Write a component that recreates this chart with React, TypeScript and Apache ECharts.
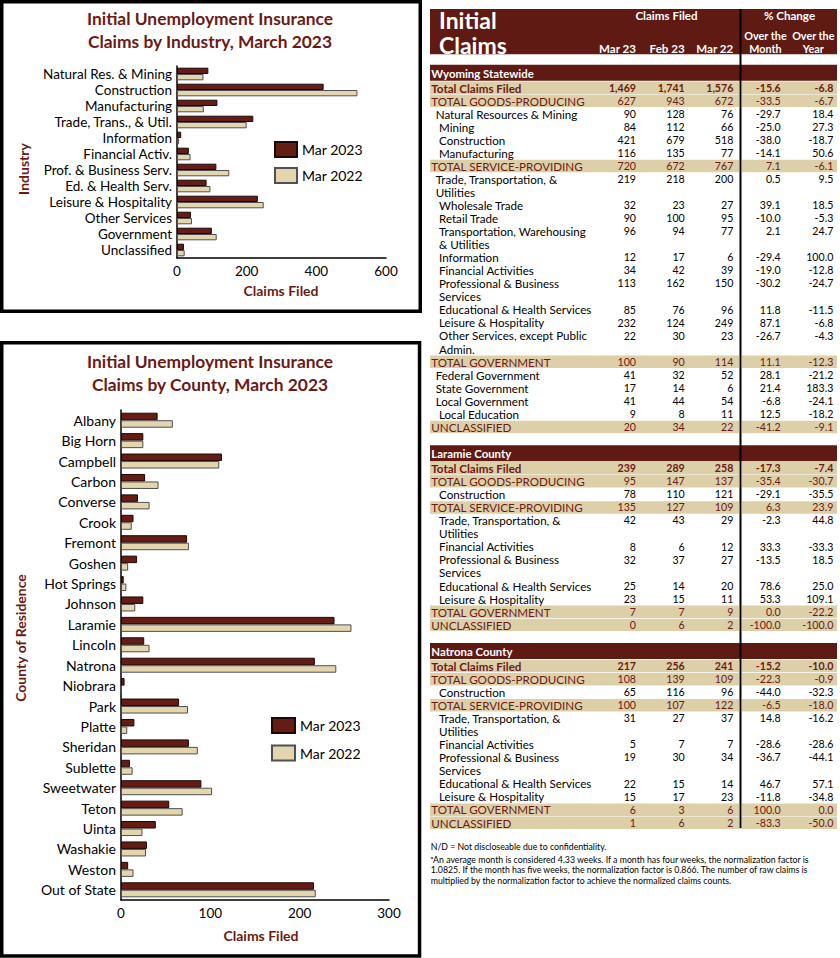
import React, { useEffect, useRef } from "react";
import * as echarts from "echarts";

// ---------- Chart data ----------
const industries = [
  "Natural Res. & Mining", "Construction", "Manufacturing", "Trade, Trans., & Util.",
  "Information", "Financial Activ.", "Prof. & Business Serv.", "Ed. & Health Serv.",
  "Leisure & Hospitality", "Other Services", "Government", "Unclassified",
];
const industryMar2023 = [90, 421, 116, 219, 12, 34, 113, 85, 232, 40, 100, 20];
const industryMar2022 = [76, 518, 77, 200, 6, 39, 150, 96, 249, 43, 114, 22];
const industryTicks = { min: 0, max: 600, interval: 200 };

const counties = [
  "Albany", "Big Horn", "Campbell", "Carbon", "Converse", "Crook", "Fremont", "Goshen",
  "Hot Springs", "Johnson", "Laramie", "Lincoln", "Natrona", "Niobrara", "Park", "Platte",
  "Sheridan", "Sublette", "Sweetwater", "Teton", "Uinta", "Washakie", "Weston", "Out of State",
];
const countyMar2023 = [41, 25, 113, 27, 19, 14, 74, 18, 3, 25, 239, 26, 217, 4, 65, 15, 76, 10, 90, 54, 39, 29, 8, 216];
const countyMar2022 = [58, 25, 110, 42, 32, 12, 76, 8, 6, 16, 258, 32, 241, 0, 75, 7, 86, 13, 102, 69, 24, 28, 14, 218];
const countyTicks = { min: 0, max: 300, interval: 100 };

const seriesNames = ["Mar 2023", "Mar 2022"];

// ---------- Table data ----------
const tableColumns = ["Mar 23", "Feb 23", "Mar 22"];

const wyTitle = "Wyoming Statewide";
const wyLabels = [
  "Total Claims Filed", "TOTAL GOODS-PRODUCING", "Natural Resources & Mining", "Mining",
  "Construction", "Manufacturing", "TOTAL SERVICE-PROVIDING", "Trade, Transportation, &\nUtilities",
  "Wholesale Trade", "Retail Trade", "Transportation, Warehousing\n& Utilities", "Information",
  "Financial Activities", "Professional & Business\nServices", "Educational & Health Services",
  "Leisure & Hospitality", "Other Services, except Public\nAdmin.", "TOTAL GOVERNMENT",
  "Federal Government", "State Government", "Local Government", "Local Education", "UNCLASSIFIED",
];
const wyLevels = ["T", "G", 1, 2, 2, 2, "G", 1, 2, 2, 2, 2, 2, 2, 2, 2, 2, "G", 1, 1, 1, 2, "G"];
const wyMar23 = [1469, 627, 90, 84, 421, 116, 720, 219, 32, 90, 96, 12, 34, 113, 85, 232, 22, 100, 41, 17, 41, 9, 20];
const wyFeb23 = [1741, 943, 128, 112, 679, 135, 672, 218, 23, 100, 94, 17, 42, 162, 76, 124, 30, 90, 32, 14, 44, 8, 34];
const wyMar22 = [1576, 672, 76, 66, 518, 77, 767, 200, 27, 95, 77, 6, 39, 150, 96, 249, 23, 114, 52, 6, 54, 11, 22];
const wyOTM = [-15.6, -33.5, -29.7, -25.0, -38.0, -14.1, 7.1, 0.5, 39.1, -10.0, 2.1, -29.4, -19.0, -30.2, 11.8, 87.1, -26.7, 11.1, 28.1, 21.4, -6.8, 12.5, -41.2];
const wyOTY = [-6.8, -6.7, 18.4, 27.3, -18.7, 50.6, -6.1, 9.5, 18.5, -5.3, 24.7, 100.0, -12.8, -24.7, -11.5, -6.8, -4.3, -12.3, -21.2, 183.3, -24.1, -18.2, -9.1];

const countyLabels = [
  "Total Claims Filed", "TOTAL GOODS-PRODUCING", "Construction", "TOTAL SERVICE-PROVIDING",
  "Trade, Transportation, &\nUtilities", "Financial Activities", "Professional & Business\nServices",
  "Educational & Health Services", "Leisure & Hospitality", "TOTAL GOVERNMENT", "UNCLASSIFIED",
];
const countyLevels = ["T", "G", 2, "G", 2, 2, 2, 2, 2, "G", "G"];

const larTitle = "Laramie County";
const larMar23 = [239, 95, 78, 135, 42, 8, 32, 25, 23, 7, 0];
const larFeb23 = [289, 147, 110, 127, 43, 6, 37, 14, 15, 7, 6];
const larMar22 = [258, 137, 121, 109, 29, 12, 27, 20, 11, 9, 2];
const larOTM = [-17.3, -35.4, -29.1, 6.3, -2.3, 33.3, -13.5, 78.6, 53.3, 0.0, -100.0];
const larOTY = [-7.4, -30.7, -35.5, 23.9, 44.8, -33.3, 18.5, 25.0, 109.1, -22.2, -100.0];

const natTitle = "Natrona County";
const natMar23 = [217, 108, 65, 100, 31, 5, 19, 22, 15, 6, 1];
const natFeb23 = [256, 139, 116, 107, 27, 7, 30, 15, 17, 3, 6];
const natMar22 = [241, 109, 96, 122, 37, 7, 34, 14, 23, 6, 2];
const natOTM = [-15.2, -22.3, -44.0, -6.5, 14.8, -28.6, -36.7, 46.7, -11.8, 100.0, -83.3];
const natOTY = [-10.0, -0.9, -32.3, -18.0, -16.2, -28.6, -44.1, 57.1, -34.8, 0.0, -50.0];

const footnotes = [
  "N/D = Not discloseable due to confidentiality.",
  "\u1d43An average month is considered 4.33 weeks. If a month has four weeks, the normalization factor is",
  "1.0825. If the month has five weeks, the normalization factor is 0.866. The number of raw claims is",
  "multiplied by the normalization factor to achieve the normalized claims counts.",
];

// ---------- Styles ----------
const FONT = "Lato";
const MAROON = "#5f1a13";
const TITLE_RED = "#6b1a15";
const DARK_BAR = "#641c14";
const BEIGE_BAR = "#e3d5ae";
const BEIGE_ROW = "#ddcfa8";

const fmtInt = (v: number) => v.toLocaleString("en-US");
const fmtPct = (v: number) => v.toFixed(1);

function txt(x: number, y: number, text: string, o: any = {}) {
  return {
    type: "text",
    x,
    y,
    rotation: o.rotation || 0,
    silent: true,
    z: 10,
    style: {
      text,
      fill: o.fill || "#000",
      fontFamily: FONT,
      fontSize: o.size || 11,
      fontWeight: o.bold ? "bold" : "normal",
      textAlign: o.align || "left",
      textVerticalAlign: o.va || "middle",
      lineHeight: o.lh,
    },
  };
}

const T_LEFT = 430;
const T_RIGHT = 837;
const T_DIV = 740.5;
const LH = 13.05;
const LABEL_SIZE = 11.6;
const NUM_SIZE = 10.6;
const COLS = [636, 684.7, 733.3, 780.7, 833.3];
const INDENT: Record<string, number> = { T: 431.3, G: 431.3, "1": 435.7, "2": 439 };

function buildSection(
  els: any[], top: number, title: string, labels: string[], levels: any[],
  a: number[], b: number[], c: number[], d: number[], e: number[]
) {
  els.push({ type: "rect", shape: { x: T_LEFT, y: top, width: T_RIGHT - T_LEFT, height: 16 }, style: { fill: MAROON }, silent: true, z: 2 });
  els.push(txt(431.3, top + 8.3, title, { fill: "#fff", bold: true, size: 11.4 }));
  let y = top + 16.5;
  labels.forEach((lab, i) => {
    const lv = String(levels[i]);
    const lines = lab.split("\n").length;
    const isTot = lv === "T" || lv === "G";
    if (isTot) {
      els.push({ type: "rect", shape: { x: T_LEFT, y: y + 0.3, width: T_DIV - 1.5 - T_LEFT, height: LH - 0.6 }, style: { fill: BEIGE_ROW }, silent: true, z: 2 });
      els.push({ type: "rect", shape: { x: T_DIV + 1.5, y: y + 0.3, width: T_RIGHT - T_DIV - 1.5, height: LH - 0.6 }, style: { fill: BEIGE_ROW }, silent: true, z: 2 });
    }
    const fill = isTot ? TITLE_RED : "#000";
    const bold = lv === "T";
    els.push(txt(INDENT[lv], y + 0.3, lab, { fill, bold, size: LABEL_SIZE, va: "top", lh: LH }));
    const cy = y + LH / 2;
    const vals = [fmtInt(a[i]), fmtInt(b[i]), fmtInt(c[i]), fmtPct(d[i]), fmtPct(e[i])];
    vals.forEach((v, k) => els.push(txt(COLS[k], cy, v, { fill, bold, size: NUM_SIZE, align: "right" })));
    y += lines * LH;
  });
  return y;
}

function buildGraphics() {
  const els: any[] = [];
  // panel borders
  els.push({ type: "rect", shape: { x: 1.75, y: 1.75, width: 418.5, height: 309.5 }, style: { fill: "none", stroke: "#000", lineWidth: 3.5 }, silent: true, z: 20 });
  els.push({ type: "rect", shape: { x: 1.75, y: 342.75, width: 417.8, height: 613.3 }, style: { fill: "none", stroke: "#000", lineWidth: 3.5 }, silent: true, z: 20 });
  // panel titles
  const TS = 17.4;
  els.push(txt(210, 18.3, "Initial Unemployment Insurance", { fill: TITLE_RED, bold: true, size: TS, align: "center" }));
  els.push(txt(210, 41.7, "Claims by Industry, March 2023", { fill: TITLE_RED, bold: true, size: TS, align: "center" }));
  els.push(txt(210, 361.7, "Initial Unemployment Insurance", { fill: TITLE_RED, bold: true, size: TS, align: "center" }));
  els.push(txt(210, 384.3, "Claims by County, March 2023", { fill: TITLE_RED, bold: true, size: TS, align: "center" }));
  // axis names
  els.push(txt(23, 169, "Industry", { fill: TITLE_RED, bold: true, size: 14, align: "center", rotation: Math.PI / 2 }));
  els.push(txt(281, 290, "Claims Filed", { fill: TITLE_RED, bold: true, size: 14, align: "center" }));
  els.push(txt(20, 638, "County of Residence", { fill: TITLE_RED, bold: true, size: 14, align: "center", rotation: Math.PI / 2 }));
  els.push(txt(261, 935, "Claims Filed", { fill: TITLE_RED, bold: true, size: 14, align: "center" }));

  // table header
  els.push({ type: "rect", shape: { x: T_LEFT, y: 9, width: T_RIGHT - T_LEFT, height: 45.3 }, style: { fill: MAROON }, silent: true, z: 2 });
  els.push(txt(439, 19.5, "Initial", { fill: "#fff", bold: true, size: 23 }));
  els.push(txt(439, 45, "Claims", { fill: "#fff", bold: true, size: 23 }));
  const HS = 11.6;
  const HS2 = 10.8;
  els.push(txt(666.5, 15, "Claims Filed", { fill: "#fff", bold: true, size: HS, align: "center" }));
  els.push(txt(789.5, 15, "% Change", { fill: "#fff", bold: true, size: HS, align: "center" }));
  els.push(txt(765.5, 35.3, "Over the", { fill: "#fff", bold: true, size: HS2, align: "center" }));
  els.push(txt(813.3, 35.3, "Over the", { fill: "#fff", bold: true, size: HS2, align: "center" }));
  els.push(txt(765.5, 48.6, "Month", { fill: "#fff", bold: true, size: HS2, align: "center" }));
  els.push(txt(813.3, 48.6, "Year", { fill: "#fff", bold: true, size: HS2, align: "center" }));
  tableColumns.forEach((c, k) => els.push(txt(COLS[k], 48.6, c, { fill: "#fff", bold: true, size: HS, align: "right" })));

  let y = buildSection(els, 64.7, wyTitle, wyLabels, wyLevels, wyMar23, wyFeb23, wyMar22, wyOTM, wyOTY);
  y = buildSection(els, y + 11.7, larTitle, countyLabels, countyLevels, larMar23, larFeb23, larMar22, larOTM, larOTY);
  y = buildSection(els, y + 11.7, natTitle, countyLabels, countyLevels, natMar23, natFeb23, natMar22, natOTM, natOTY);

  // divider line
  els.push({ type: "line", shape: { x1: T_DIV, y1: 9, x2: T_DIV, y2: y - 1 }, style: { stroke: "#000", lineWidth: 2 }, silent: true, z: 15 });

  // footnotes
  const fy = [846.7, 859.3, 869.6, 880];
  footnotes.forEach((f, i) => els.push(txt(430.7, fy[i], f, { size: 8.75 })));
  return els;
}

function barSeries(name: string, data: number[], idx: number, dark: boolean, width: number) {
  return {
    type: "bar",
    name,
    data,
    xAxisIndex: idx,
    yAxisIndex: idx,
    barWidth: width,
    barGap: "0%",
    itemStyle: {
      color: dark ? DARK_BAR : BEIGE_BAR,
      borderColor: dark ? "#1c0806" : "#505050",
      borderWidth: 1,
    },
  };
}

const catAxis = (data: string[], idx: number, size: number) => ({
  type: "category",
  gridIndex: idx,
  data,
  inverse: true,
  axisLine: { show: true, lineStyle: { color: "#000", width: 1.5 } },
  axisTick: { show: false },
  axisLabel: { color: "#000", fontSize: size, fontFamily: FONT, margin: 5, interval: 0 },
});

const valAxis = (idx: number, t: { min: number; max: number; interval: number }) => ({
  type: "value",
  gridIndex: idx,
  min: t.min,
  max: t.max,
  interval: t.interval,
  splitLine: { show: false },
  axisLine: { show: true, lineStyle: { color: "#000", width: 1.5 } },
  axisTick: { show: false },
  axisLabel: { color: "#000", fontSize: 13.5, fontFamily: FONT, margin: 6 },
});

const legendCfg = (left: number, top: number, gap: number, w: number) => ({
  left,
  top,
  orient: "vertical",
  icon: "rect",
  itemWidth: w,
  itemHeight: 15,
  itemGap: gap,
  selectedMode: false,
  data: seriesNames,
  textStyle: { color: "#000", fontSize: 14, fontFamily: FONT, lineHeight: 15 },
});

export default function App() {
  const ref = useRef<HTMLDivElement>(null);
  useEffect(() => {
    const chart = echarts.init(ref.current!, null, { renderer: "svg" });
    chart.setOption({
      animation: false,
      backgroundColor: "#fff",
      textStyle: { fontFamily: FONT },
      grid: [
        { left: 177, top: 66, width: 209, height: 192 },
        { left: 121, top: 410, width: 268, height: 490 },
      ],
      xAxis: [valAxis(0, industryTicks), valAxis(1, countyTicks)],
      yAxis: [catAxis(industries, 0, 13.5), catAxis(counties, 1, 14)],
      legend: [legendCfg(269, 136, 9, 22), legendCfg(266, 712, 10.5, 23)],
      series: [
        barSeries(seriesNames[0], industryMar2023, 0, true, 6.3),
        barSeries(seriesNames[1], industryMar2022, 0, false, 6.3),
        barSeries(seriesNames[0], countyMar2023, 1, true, 7.5),
        barSeries(seriesNames[1], countyMar2022, 1, false, 7.5),
      ],
      graphic: buildGraphics(),
    });
    return () => chart.dispose();
  }, []);
  return (
    <div
      ref={ref}
      style={{ position: "absolute", left: 0, top: 0, width: 840, height: 958, background: "#fff" }}
    />
  );
}
